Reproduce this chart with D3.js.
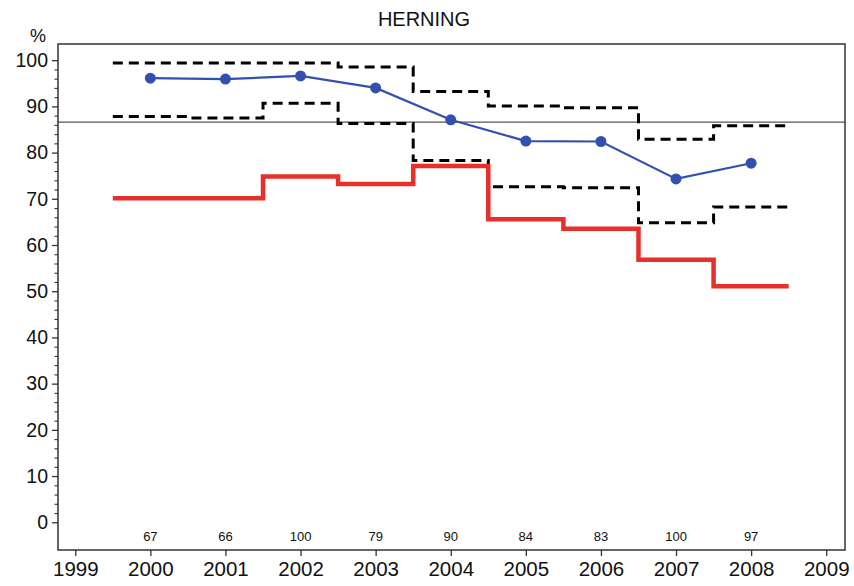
<!DOCTYPE html>
<html>
<head>
<meta charset="utf-8">
<script src="https://cdn.jsdelivr.net/npm/d3@7"></script>
<style>
  html, body { margin: 0; padding: 0; background: #fff; }
  text { font-family: "Liberation Sans", Arial, Helvetica, sans-serif; fill: #111; }
</style>
</head>
<body>
<svg id="chart" width="854" height="586"></svg>
<script>
const years = [2000, 2001, 2002, 2003, 2004, 2005, 2006, 2007, 2008];
const rateValues = [96.1, 95.9, 96.6, 94.0, 87.1, 82.5, 82.4, 74.3, 77.7];
const standardValues = [70.1, 70.1, 74.8, 73.2, 77.1, 65.6, 63.5, 56.8, 51.1];
const upperLimit = [99.4, 99.4, 99.4, 98.5, 93.2, 90.1, 89.7, 82.9, 85.8];
const lowerLimit = [87.8, 87.5, 90.7, 86.3, 78.3, 72.6, 72.4, 64.8, 68.2];
const counts = [67, 66, 100, 79, 90, 84, 83, 100, 97];
const referenceValue = 86.6;
const xTicks = [1999, 2000, 2001, 2002, 2003, 2004, 2005, 2006, 2007, 2008, 2009];
const yTicks = [0, 10, 20, 30, 40, 50, 60, 70, 80, 90, 100];
const title = "HERNING";
const yLabel = "%";

const svg = d3.select("#chart");
const x = d3.scaleLinear().domain([1998.77, 2009.25]).range([58, 845]);
const y = d3.scaleLinear().domain([-6, 103.5]).range([550, 44]);

// Title
svg.append("text").attr("x", 424).attr("y", 26).attr("text-anchor", "middle")
  .attr("font-size", 20).text(title);
svg.append("text").attr("x", 38).attr("y", 42).attr("text-anchor", "middle")
  .attr("font-size", 18).text(yLabel);

// Reference line
svg.append("line").attr("x1", x.range()[0]).attr("x2", x.range()[1])
  .attr("y1", y(referenceValue)).attr("y2", y(referenceValue))
  .attr("stroke", "#555").attr("stroke-width", 1.3);

// Step builder: each year covers [year-0.5, year+0.5]
function stepPoints(vals) {
  const pts = years.map((yr, i) => [yr - 0.5, vals[i]]);
  pts.push([years[years.length - 1] + 0.5, vals[vals.length - 1]]);
  return pts;
}
const stepLine = d3.line().x(d => x(d[0])).y(d => y(d[1])).curve(d3.curveStepAfter);

svg.append("path").attr("d", stepLine(stepPoints(upperLimit)))
  .attr("fill", "none").attr("stroke", "#000").attr("stroke-width", 3)
  .attr("stroke-dasharray", "10,6");
svg.append("path").attr("d", stepLine(stepPoints(lowerLimit)))
  .attr("fill", "none").attr("stroke", "#000").attr("stroke-width", 3)
  .attr("stroke-dasharray", "10,6");
svg.append("path").attr("d", stepLine(stepPoints(standardValues)))
  .attr("fill", "none").attr("stroke", "#e8302a").attr("stroke-width", 4.5);

// Rate line
const rateLine = d3.line().x((d, i) => x(years[i])).y(d => y(d));
svg.append("path").attr("d", rateLine(rateValues))
  .attr("fill", "none").attr("stroke", "#3350b0").attr("stroke-width", 2.2);
svg.selectAll("circle.pt").data(rateValues).enter().append("circle")
  .attr("class", "pt").attr("cx", (d, i) => x(years[i])).attr("cy", d => y(d))
  .attr("r", 5.5).attr("fill", "#3350b0");

// Counts
svg.selectAll("text.cnt").data(counts).enter().append("text")
  .attr("class", "cnt").attr("x", (d, i) => x(years[i])).attr("y", y(-3) + 4.5)
  .attr("text-anchor", "middle").attr("font-size", 13).text(d => d);

// Frame
svg.append("rect").attr("x", x.range()[0]).attr("y", y.range()[1])
  .attr("width", x.range()[1] - x.range()[0]).attr("height", y.range()[0] - y.range()[1])
  .attr("fill", "none").attr("stroke", "#333").attr("stroke-width", 1.5);

// Y axis
const yAxis = d3.axisLeft(y).tickValues(yTicks).tickSize(6).tickPadding(4).tickFormat(d3.format("d"));
const gy = svg.append("g").attr("transform", `translate(${x.range()[0]},0)`).call(yAxis);
gy.select(".domain").remove();
gy.selectAll("text").attr("font-size", 19.5).attr("font-family", "Liberation Sans, Arial, sans-serif").attr("fill", "#111");
gy.selectAll("line").attr("stroke", "#333").attr("stroke-width", 1.3);
const minor = d3.range(0, 101, 2).filter(v => v % 10 !== 0);
const gym = svg.append("g").attr("transform", `translate(${x.range()[0]},0)`)
  .call(d3.axisLeft(y).tickValues(minor).tickSize(3.5).tickFormat(""));
gym.select(".domain").remove();
gym.selectAll("line").attr("stroke", "#333").attr("stroke-width", 1.1);

// X axis
const xAxis = d3.axisBottom(x).tickValues(xTicks).tickSize(6).tickPadding(5).tickFormat(d3.format("d"));
const gx = svg.append("g").attr("transform", `translate(0,${y.range()[0]})`).call(xAxis);
gx.select(".domain").remove();
gx.selectAll("text").attr("font-size", 20.5).attr("font-family", "Liberation Sans, Arial, sans-serif").attr("fill", "#111");
gx.selectAll("line").attr("stroke", "#333").attr("stroke-width", 1.3);
</script>
</body>
</html>
